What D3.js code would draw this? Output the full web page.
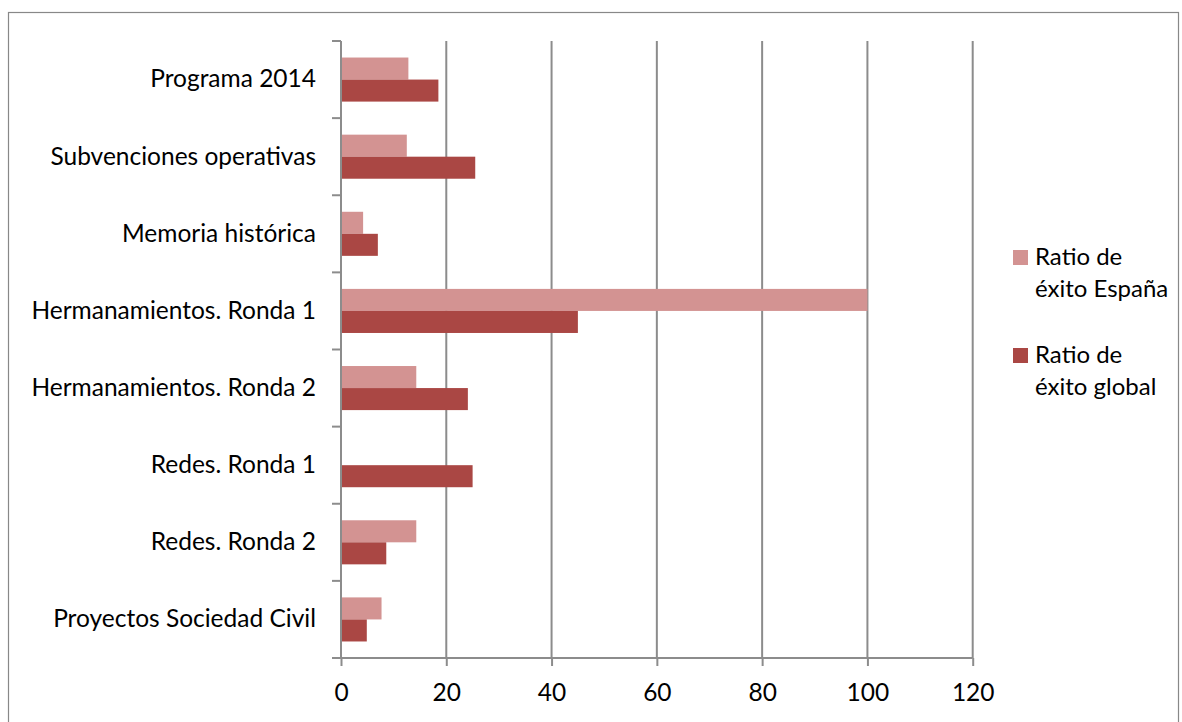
<!DOCTYPE html>
<html><head><meta charset="utf-8">
<script src="https://cdn.jsdelivr.net/npm/d3@7/dist/d3.min.js"></script>
<style>body{margin:0;background:#fff}svg{display:block}text{font-family:Lato,"Open Sans",sans-serif;fill:#000}</style>
</head><body>
<script>
const categories = ["Programa 2014","Subvenciones operativas","Memoria histórica","Hermanamientos. Ronda 1","Hermanamientos. Ronda 2","Redes. Ronda 1","Redes. Ronda 2","Proyectos Sociedad Civil"];
const seriesNames = ["Ratio de éxito España","Ratio de éxito global"];
const espana = [12.8,12.5,4.2,100,14.3,0,14.3,7.7];
const global = [18.5,25.5,7.0,45,24.1,25.0,8.6,4.9];
const xTicks = [0,20,40,60,80,100,120];
const colors = ["#D39392","#AA4744"];

const W=1182,H=722,FS=24.5;
const svg=d3.select("body").append("svg").attr("width",W).attr("height",H);
svg.append("rect").attr("x",8.5).attr("y",12.5).attr("width",1170).attr("height",740)
  .attr("fill","none").attr("stroke","#888").attr("stroke-width",1.2);

const L=341,R=972.7,T=41,B=658;
const x=d3.scaleLinear().domain([0,120]).range([L,R]);
const y=d3.scaleBand().domain(categories).range([T,B]).padding(0);
const grpW=y.bandwidth()/1.75, off=(y.bandwidth()-grpW)/2;
const inner=d3.scaleBand().domain([0,1]).range([0,grpW]);
const gridColor="#8c8c8c";

// gridlines
svg.append("g").selectAll("line").data(xTicks.slice(1)).join("line")
  .attr("x1",d=>x(d)).attr("x2",d=>x(d)).attr("y1",T).attr("y2",B)
  .attr("stroke",gridColor).attr("stroke-width",2);

// bars
const rows=categories.map((c,i)=>({c,v:[espana[i],global[i]]}));
const g=svg.append("g");
rows.forEach(r=>{
  r.v.forEach((v,k)=>{
    g.append("rect").attr("x",x(0)).attr("y",y(r.c)+off+inner(k))
      .attr("width",x(v)-x(0)).attr("height",inner.bandwidth())
      .attr("fill",colors[k]);
  });
});

// x axis
const xa=svg.append("g").attr("transform",`translate(0,${B})`)
  .call(d3.axisBottom(x).tickValues(xTicks).tickSize(8).tickPadding(18).tickSizeOuter(0));
xa.select(".domain").attr("stroke",gridColor).attr("stroke-width",2).attr("d",`M${L-9},0H${R}`);
xa.selectAll(".tick line").attr("stroke",gridColor).attr("stroke-width",2);
xa.selectAll("text").attr("font-size",FS).style("font-family","Lato,'Open Sans',sans-serif").attr("fill","#000");

// y axis
const ya=svg.append("g").attr("transform",`translate(${L},0)`)
  .call(d3.axisLeft(y).tickSize(0).tickPadding(25));
ya.select(".domain").attr("stroke",gridColor).attr("stroke-width",2).attr("d",`M0,${T}V${B}`);
ya.selectAll("text").attr("font-size",FS).style("font-family","Lato,'Open Sans',sans-serif").attr("fill","#000");
const bounds=d3.range(categories.length+1).map(i=>T+i*y.step());
svg.append("g").selectAll("line").data(bounds).join("line")
  .attr("x1",L-9).attr("x2",L).attr("y1",d=>d).attr("y2",d=>d)
  .attr("stroke",gridColor).attr("stroke-width",2);

// legend
const legend=svg.append("g");
const legY=[250,348];
const lines=[["Ratio de","éxito España"],["Ratio de","éxito global"]];
seriesNames.forEach((s,k)=>{
  legend.append("rect").attr("x",1013).attr("y",legY[k]).attr("width",15).attr("height",15).attr("fill",colors[k]);
  lines[k].forEach((t,j)=>{
    legend.append("text").attr("x",1035).attr("y",legY[k]+15+j*32).attr("font-size",24).text(t);
  });
});
</script>
</body></html>
